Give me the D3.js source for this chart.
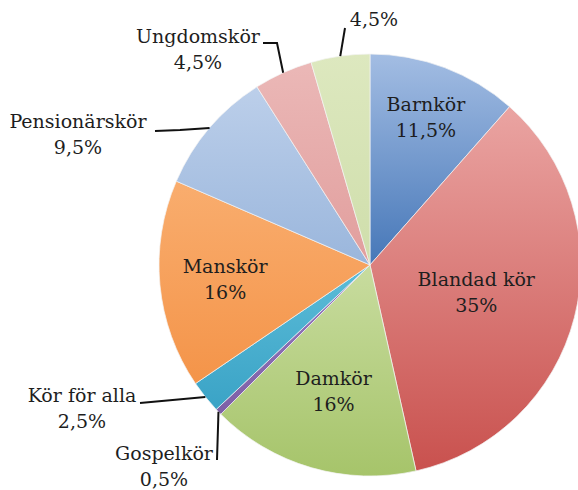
<!DOCTYPE html>
<html>
<head>
  <meta charset="utf-8">
  <title>Körer</title>
  <style>
    body { margin: 0; background: #fff; }
    svg { font-family: "DejaVu Serif", serif; }
    .label { font-size: 19px; fill: #1e1e1e; text-anchor: middle; }
    .leader { fill: none; stroke: #111; stroke-width: 2; }
  </style>
</head>
<body>
<script src="https://cdnjs.cloudflare.com/ajax/libs/d3/7.8.5/d3.min.js"></script>
<script>
  const categories = ["Barnkör", "Blandad kör", "Damkör", "Gospelkör", "Kör för alla",
                      "Manskör", "Pensionärskör", "Ungdomskör", ""];
  const values = [11.5, 35, 16, 0.5, 2.5, 16, 9.5, 4.5, 4.5];
  const valueLabels = ["11,5%", "35%", "16%", "0,5%", "2,5%", "16%", "9,5%", "4,5%", "4,5%"];

  // light (top) / dark (bottom) gradient colours per slice
  const lightColors = ["#a3bde3", "#eaa4a2", "#c8dc9f", "#9a7ec0", "#5cbcd8", "#f9ad6e", "#bccfea", "#ebb8b7", "#dde8bf"];
  const darkColors  = ["#4677b8", "#c9514e", "#a6c46a", "#7d5fa6", "#3aa3c6", "#f49449", "#9ab6dc", "#e19e9d", "#cfdeab"];

  const width = 578, height = 490;
  const cx = 370, cy = 265, radius = 211;

  // inside labels: radius fraction along the mid angle (null = outside label)
  const insideRadius = [0.75, 0.52, 0.62, null, null, 0.69, null, null, null];
  // outside labels: text anchor (first baseline) and leader path, relative to the centre
  const outside = {
    3: { tx: -206, ty: 195, path: [[-153, 148], [-153, 195]] },
    4: { tx: -288, ty: 137, path: [[-168, 131], [-230, 138]] },
    6: { tx: -292, ty: -137, path: [[-160, -143], [-190, -135], [-215, -134]] },
    7: { tx: -172, ty: -222, path: [[-87, -197], [-93, -222], [-107, -222]] },
    8: { tx: 4, ty: -239, path: [[-28, -210], [-25, -237]] }
  };

  const svg = d3.select("body").append("svg")
    .attr("width", width)
    .attr("height", height);

  const defs = svg.append("defs");
  values.forEach((v, i) => {
    const g = defs.append("linearGradient")
      .attr("id", "grad" + i)
      .attr("x1", 0).attr("y1", 0).attr("x2", 0).attr("y2", 1);
    g.append("stop").attr("offset", "0%").attr("stop-color", lightColors[i]);
    g.append("stop").attr("offset", "100%").attr("stop-color", darkColors[i]);
  });

  const data = categories.map((c, i) => ({ name: c, value: values[i], label: valueLabels[i], i }));

  const pie = d3.pie().value(d => d.value).sort(null);
  const arc = d3.arc().innerRadius(0).outerRadius(radius);
  const arcs = pie(data);

  const g = svg.append("g").attr("transform", `translate(${cx},${cy})`);

  g.selectAll("path.slice")
    .data(arcs)
    .enter()
    .append("path")
    .attr("class", "slice")
    .attr("d", arc)
    .attr("fill", d => `url(#grad${d.data.i})`)
    .attr("stroke", "#f4f4f4")
    .attr("stroke-width", 0.7);

  // inside labels
  arcs.filter(d => insideRadius[d.data.i] != null).forEach(d => {
    const r = radius * insideRadius[d.data.i];
    const [x, y] = d3.arc().innerRadius(r).outerRadius(r).centroid(d);
    const t = g.append("text").attr("class", "label").attr("x", x).attr("y", y - 6);
    t.append("tspan").attr("x", x).text(d.data.name);
    t.append("tspan").attr("x", x).attr("dy", 26).text(d.data.label);
  });

  // outside labels with leader lines
  arcs.filter(d => outside[d.data.i]).forEach(d => {
    const o = outside[d.data.i];
    const mid = (d.startAngle + d.endAngle) / 2;
    const start = [Math.sin(mid) * radius, -Math.cos(mid) * radius];
    g.append("path")
      .attr("class", "leader")
      .attr("d", d3.line()([start].concat(o.path.slice(1))));
    const t = g.append("text").attr("class", "label").attr("x", o.tx).attr("y", o.ty);
    if (d.data.name) {
      t.append("tspan").attr("x", o.tx).text(d.data.name);
      t.append("tspan").attr("x", o.tx).attr("dy", 26).text(d.data.label);
    } else {
      t.append("tspan").attr("x", o.tx).text(d.data.label);
    }
  });
</script>
</body>
</html>
